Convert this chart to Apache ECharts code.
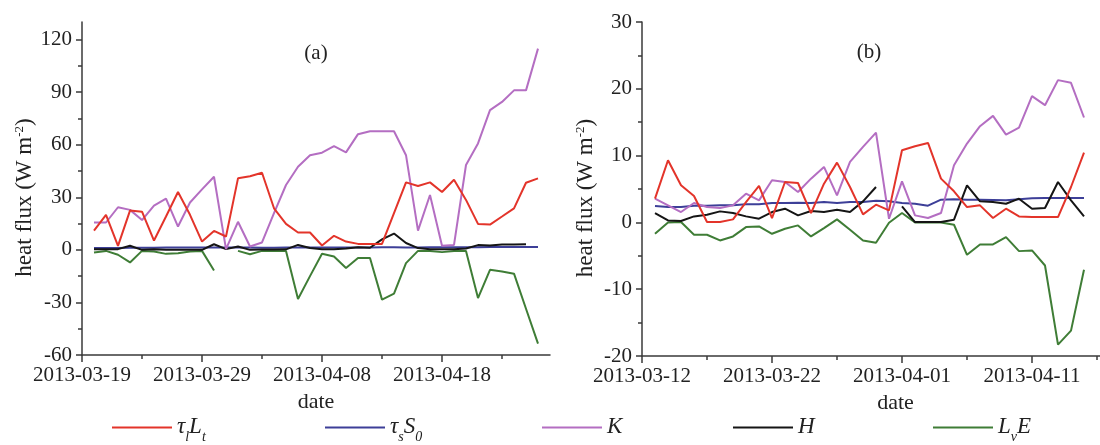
<!DOCTYPE html>
<html><head><meta charset="utf-8">
<script src="https://cdn.jsdelivr.net/npm/echarts@6/dist/echarts.min.js"></script>
<style>html,body{margin:0;padding:0;background:#fff}#c{width:1100px;height:445px}</style>
</head><body><div id="c"></div>
<script>
// ---- categories (one per day) ----
const datesA = ['2013-03-19','2013-03-20','2013-03-21','2013-03-22','2013-03-23','2013-03-24','2013-03-25','2013-03-26','2013-03-27','2013-03-28',
'2013-03-29','2013-03-30','2013-03-31','2013-04-01','2013-04-02','2013-04-03','2013-04-04','2013-04-05','2013-04-06','2013-04-07',
'2013-04-08','2013-04-09','2013-04-10','2013-04-11','2013-04-12','2013-04-13','2013-04-14','2013-04-15','2013-04-16','2013-04-17',
'2013-04-18','2013-04-19','2013-04-20','2013-04-21','2013-04-22','2013-04-23','2013-04-24','2013-04-25','2013-04-26','2013-04-27'];
const datesB = ['2013-03-12','2013-03-13','2013-03-14','2013-03-15','2013-03-16','2013-03-17','2013-03-18','2013-03-19','2013-03-20','2013-03-21',
'2013-03-22','2013-03-23','2013-03-24','2013-03-25','2013-03-26','2013-03-27','2013-03-28','2013-03-29','2013-03-30','2013-03-31',
'2013-04-01','2013-04-02','2013-04-03','2013-04-04','2013-04-05','2013-04-06','2013-04-07','2013-04-08','2013-04-09','2013-04-10',
'2013-04-11','2013-04-12','2013-04-13','2013-04-14','2013-04-15','2013-04-16','2013-04-17','2013-04-18','2013-04-19','2013-04-20'];
const xTickLabelsA = ['2013-03-19','2013-03-29','2013-04-08','2013-04-18'];
const xTickLabelsB = ['2013-03-12','2013-03-22','2013-04-01','2013-04-11'];
const xMinorA = ['2013-03-24','2013-04-03','2013-04-13','2013-04-23'];
const xMinorB = ['2013-03-17','2013-03-27','2013-04-06','2013-04-16'];
const yTicksA = [-60,-30,0,30,60,90,120];
const yMinorA = [-45,-15,15,45,75,105];
const yTicksB = [-20,-10,0,10,20,30];
const yMinorB = [-15,-5,5,15,25];

// ---- panel (a) values (aligned with datesA) ----
const tauL_A = [null,11,20,2.3,22.4,21.8,5.3,19,33,20,4.7,10.8,7.6,40.8,42,44,23.7,14.8,9.9,9.9,2.5,8,4.7,3.4,3.4,3.4,21,38.5,36.4,38.5,33,40,28.5,14.8,14.4,19,23.7,38.3,40.8,null];
const tauS_A = [null,1.0,1.1,1.1,1.2,1.2,1.2,1.3,1.3,1.3,1.3,1.4,1.3,1.3,1.3,1.2,1.2,1.3,1.3,1.3,1.4,1.4,1.4,1.4,1.4,1.5,1.5,1.4,1.4,1.5,1.5,1.5,1.5,1.5,1.6,1.6,1.6,1.6,1.6,null];
const K_A    = [null,15.6,15.6,24.3,22.8,17,25.2,29.2,13.3,27,34.5,41.7,0.4,16,1.9,4.2,20.9,37,47.4,54,55.4,59.2,55.6,66,67.7,67.7,67.7,54,11,31.3,2.3,2.8,48.4,60.7,79.7,84.4,91,91,114.8,null];
const H_A    = [null,0.4,0.4,0.4,2.3,0,0.4,0,0,0,0,3.2,0.4,1.9,0,0.2,0.2,0.3,2.8,1,0.4,0.4,0.8,1.5,1.2,6,9.3,3.9,1,0.4,0.4,0.4,0.8,2.7,2.5,3,3,3.2,null,null];
const LvE_A  = [null,-1.5,-0.6,-2.8,-7.2,-0.6,-1,-2.3,-1.9,-1,-0.6,-11.8,null,-0.6,-2.5,-0.6,-0.6,-0.6,-28,-15,-2.2,-3.8,-10.4,-4.6,-4.7,-28.4,-25,-7.6,-0.6,-0.6,-1.3,-0.6,-0.6,-27.5,-11.4,-12.3,-13.6,-33.6,-53.5,null];

// ---- panel (b) values (aligned with datesB) ----
const tauL_B = [null,3.55,9.3,5.55,3.95,0.05,0.05,0.45,3.05,5.45,0.65,6.05,5.9,1.4,5.8,8.95,5.3,1.2,2.65,1.8,10.8,11.4,11.9,6.55,4.65,2.3,2.55,0.65,2.05,0.9,0.8,0.8,0.8,5.3,10.45,null,null,null,null,null];
const tauS_B = [null,2.45,2.3,2.3,2.5,2.5,2.55,2.55,2.7,2.7,2.9,2.9,2.95,2.9,3.05,2.9,3.05,3.05,3.25,3.15,2.9,2.8,2.5,3.4,3.45,3.4,3.4,3.35,3.3,3.45,3.6,3.65,3.65,3.65,3.65,null,null,null,null,null];
const K_B    = [null,3.55,2.55,1.55,2.9,2.3,2.15,2.55,4.3,3.3,6.3,6.05,4.55,6.55,8.3,4.05,9.05,11.3,13.45,0.55,6.15,1.05,0.65,1.4,8.55,11.8,14.4,15.95,13.15,14.2,18.9,17.55,21.3,20.9,15.7,null,null,null,null,null];
const H_B    = [null,1.4,0.3,0.2,0.9,1.15,1.65,1.4,0.9,0.55,1.55,2.05,1.05,1.7,1.55,1.9,1.55,3.15,5.3,null,2.4,0.05,0.05,0.05,0.4,5.55,3.15,3.05,2.8,3.55,2.05,2.15,6.05,3.3,0.9,null,null,null,null,null];
const LvE_B  = [null,-1.7,0,0.05,-1.85,-1.85,-2.7,-2.1,-0.7,-0.6,-1.7,-0.95,-0.45,-2.1,-0.85,0.45,-1.1,-2.7,-3.05,-0.05,1.4,0,0,0,-0.35,-4.85,-3.3,-3.3,-2.2,-4.3,-4.2,-6.45,-18.3,-16.2,-7.1,null,null,null,null,null];

const seriesNames = ['tauL','tauS','K','H','LvE'];
const legendRich = {
  tauL: '{i|τ}{s|l}{i|L}{s|t}',
  tauS: '{i|τ}{s|s}{i|S}{s|0}',
  K: '{i|K}{s| }',
  H: '{i|H}{s| }',
  LvE: '{i|L}{s|v}{i|E}'
};

const FF = '"Liberation Serif", "Times New Roman", serif';
const AX = '#3a3a3a';
const TX = '#222';
const COLORS = {tauL:'#e3342a', tauS:'#3d3f98', K:'#b46ec2', H:'#151515', LvE:'#3f7d36'};

function xMain(gi, cats, labels) {
  return {type:'category', gridIndex:gi, data:cats, boundaryGap:false, position:'bottom',
    axisLine:{show:true, onZero:false, lineStyle:{color:AX, width:1.5}},
    axisTick:{show:true, interval:(i,v)=>labels.indexOf(cats[i])>=0, length:7, lineStyle:{color:AX, width:1.5}},
    axisLabel:{interval:(i,v)=>labels.indexOf(cats[i])>=0, margin:10, fontFamily:FF, fontSize:21, color:TX},
    splitLine:{show:false},
    name:'date', nameLocation:'middle', nameGap:33,
    nameTextStyle:{fontFamily:FF, fontSize:22, color:TX}};
}
function xMinor(gi, cats, minors) {
  return {type:'category', gridIndex:gi, data:cats, boundaryGap:false, position:'bottom', offset:0,
    axisLine:{show:false, onZero:false},
    axisTick:{show:true, interval:(i,v)=>minors.indexOf(cats[i])>=0, length:4, lineStyle:{color:AX, width:1.5}},
    axisLabel:{show:false}, splitLine:{show:false}};
}
function yMain(gi, min, max, ticks) {
  return {type:'value', gridIndex:gi, min:min, max:max, position:'left',
    axisLine:{show:true, onZero:false, lineStyle:{color:AX, width:1.5}},
    axisTick:{show:true, customValues:ticks, length:6, lineStyle:{color:AX, width:1.5}},
    axisLabel:{customValues:ticks, margin:10, fontFamily:FF, fontSize:21, color:TX},
    splitLine:{show:false},
    name:'heat flux (W m{sup|-2})', nameLocation:'middle', nameGap:44, nameRotate:90,
    nameTextStyle:{fontFamily:FF, fontSize:23, color:TX, lineHeight:24, padding:[0,18,0,0],
      rich:{sup:{fontFamily:FF, fontSize:13, color:TX, verticalAlign:'top', lineHeight:6}}}};
}
function yMinor(gi, min, max, minors) {
  return {type:'value', gridIndex:gi, min:min, max:max, position:'left', offset:0,
    axisLine:{show:false, onZero:false},
    axisTick:{show:true, customValues:minors, length:4, lineStyle:{color:AX, width:1.5}},
    axisLabel:{show:false}, splitLine:{show:false}};
}

const dataA = {tauL:tauL_A, tauS:tauS_A, K:K_A, H:H_A, LvE:LvE_A};
const dataB = {tauL:tauL_B, tauS:tauS_B, K:K_B, H:H_B, LvE:LvE_B};
const drawOrder = ['tauS','LvE','H','K','tauL'];
const series = [];
[[dataA, 0], [dataB, 2]].forEach(([d, ax]) => {
  drawOrder.forEach(n => {
    series.push({type:'line', name:n, xAxisIndex:ax, yAxisIndex:ax, data:d[n],
      symbol:'none', showSymbol:false, connectNulls:false,
      lineStyle:{color:COLORS[n], width:2}, itemStyle:{color:COLORS[n]}});
  });
});

const legendLeft = {tauL:112, tauS:325, K:542, H:733, LvE:933};
const legends = seriesNames.map(n => ({
  data:[n], left:legendLeft[n], top:411, padding:0, itemGap:0,
  itemWidth:60, itemHeight:2, icon:'rect',
  formatter:() => legendRich[n],
  textStyle:{fontFamily:FF, fontSize:23, color:TX,
    rich:{i:{fontFamily:FF, fontStyle:'italic', fontSize:23, color:TX, lineHeight:24, verticalAlign:'top', padding:[4,0,0,0]},
          s:{fontFamily:FF, fontStyle:'italic', fontSize:14, color:TX, verticalAlign:'top', padding:[19,0,0,0]}}}
}));

const chart = echarts.init(document.getElementById('c'), null, {renderer:'canvas'});
chart.setOption({
  animation:false,
  backgroundColor:'#fff',
  grid:[
    {left:82, top:22, width:468, height:333, outerBoundsMode:'none', containLabel:false},
    {left:642, top:22, width:507, height:334, outerBoundsMode:'none', containLabel:false}
  ],
  xAxis:[xMain(0, datesA, xTickLabelsA), xMinor(0, datesA, xMinorA), xMain(1, datesB, xTickLabelsB), xMinor(1, datesB, xMinorB)],
  yAxis:[yMain(0, -60, 130, yTicksA), yMinor(0, -60, 130, yMinorA), yMain(1, -20, 30, yTicksB), yMinor(1, -20, 30, yMinorB)],
  legend:legends,
  graphic:[
    {type:'text', x:316, y:53, style:{text:'(a)', fontFamily:FF, fontSize:21, fill:TX, align:'center', verticalAlign:'middle'}},
    {type:'text', x:869, y:52, style:{text:'(b)', fontFamily:FF, fontSize:21, fill:TX, align:'center', verticalAlign:'middle'}}
  ],
  series:series
});
</script></body></html>
